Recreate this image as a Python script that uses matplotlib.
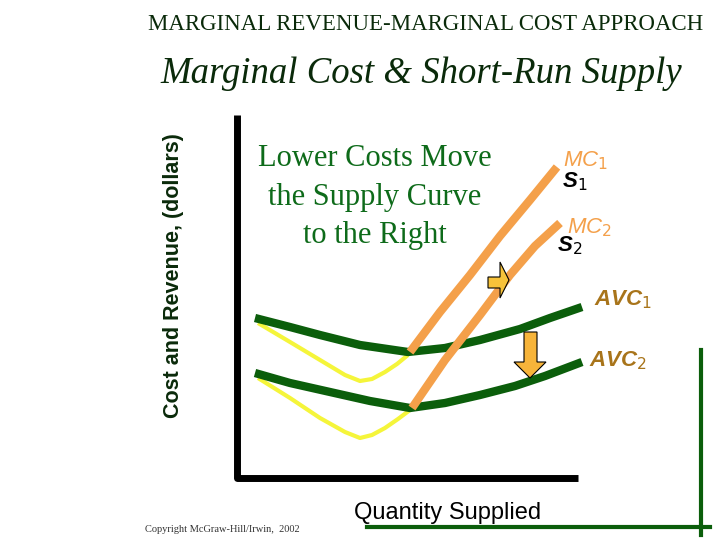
import matplotlib
matplotlib.use("Agg")
import matplotlib.pyplot as plt
from matplotlib.patches import Polygon

# Curve data (figure pixel units, y downward)
avc1_x = [255, 290, 320, 360, 408, 445, 480, 520, 550, 582]
avc1_y = [318, 327, 335, 345, 352, 348, 340, 329, 318, 307]
avc2_x = [255, 290, 330, 370, 410, 445, 480, 515, 545, 582]
avc2_y = [373, 383, 392, 401, 408, 403, 395, 386, 376, 362]
yel1_x = [258, 290, 320, 345, 360, 372, 385, 397, 408]
yel1_y = [323, 342, 360, 375, 381, 379, 372, 364, 355]
yel2_x = [258, 290, 320, 345, 360, 372, 385, 398, 410]
yel2_y = [378, 398, 418, 432, 438, 435, 428, 419, 410]
mc1_x = [410, 440, 470, 500, 530, 557]
mc1_y = [352, 312, 275, 236, 200, 167]
mc2_x = [412, 445, 480, 510, 535, 560]
mc2_y = [408, 360, 315, 275, 246, 223]

fig = plt.figure(figsize=(7.2, 5.4), dpi=100)
ax = fig.add_axes([0, 0, 1, 1])
ax.set_xlim(0, 720)
ax.set_ylim(540, 0)
ax.axis("off")

dg = "#0B5E0B"
orange = "#F4A04A"
brown = "#A8741A"

ax.plot([237, 237, 578], [115, 478, 478], color="black", lw=5, solid_capstyle="butt")
ax.plot([701, 701], [350, 535], color=dg, lw=3)
ax.plot([367, 710], [527, 527], color=dg, lw=3)

kw = dict(solid_joinstyle="round", solid_capstyle="butt")
ax.plot(yel1_x, yel1_y, color="#F5F53A", lw=3, zorder=2, **kw)
ax.plot(yel2_x, yel2_y, color="#F5F53A", lw=3, zorder=2, **kw)
ax.plot(avc1_x, avc1_y, color=dg, lw=6, zorder=3, **kw)
ax.plot(avc2_x, avc2_y, color=dg, lw=6, zorder=3, **kw)
ax.plot(mc1_x, mc1_y, color=orange, lw=6, zorder=4, **kw)
ax.plot(mc2_x, mc2_y, color=orange, lw=6, zorder=4, **kw)

ax.add_patch(Polygon([[488, 277], [500, 277], [500, 262], [509, 280], [500, 298], [500, 288], [488, 288]],
                     closed=True, fc="#F7C23A", ec="black", lw=0.8, zorder=5))
ax.add_patch(Polygon([[524, 332], [537, 332], [537, 362], [546, 362], [530, 378], [514, 362], [524, 362]],
                     closed=True, fc="#F7B43A", ec="black", lw=0.8, zorder=5))

ax.text(426, 25, "MARGINAL REVENUE-MARGINAL COST APPROACH", ha="center", va="center",
        family="Liberation Serif", fontsize=16.5, color="#0A2A0A")
ax.text(421, 74, "Marginal Cost & Short-Run Supply", ha="center", va="center",
        family="Liberation Serif", style="italic", fontsize=26.5, color="#0A2A0A")
ax.text(173, 276, "Cost and Revenue, (dollars)", rotation=90, ha="center", va="center",
        family="Liberation Sans", fontweight="bold", fontsize=15.5, color="#0A2A0A")
for txt, yy in [("Lower Costs Move", 159), ("the Supply Curve", 197), ("to the Right", 236)]:
    ax.text(375, yy, txt, ha="center", va="center",
            family="Liberation Serif", fontsize=22, color="#0E6B1A")
ax.text(448, 513, "Quantity Supplied", ha="center", va="center",
        family="Liberation Sans", fontsize=17, color="black")
ax.text(145, 529, "Copyright McGraw-Hill/Irwin,  2002", ha="left", va="center",
        family="Liberation Serif", fontsize=7.5, color="#333333")

ax.text(563, 161, "MC$_1$", family="Liberation Sans", style="italic", fontsize=16, color=orange, va="center")
ax.text(562, 182, "S$_1$", family="Liberation Sans", style="italic", fontweight="bold", fontsize=16, color="black", va="center")
ax.text(567, 228, "MC$_2$", family="Liberation Sans", style="italic", fontsize=16, color=orange, va="center")
ax.text(557, 246, "S$_2$", family="Liberation Sans", style="italic", fontweight="bold", fontsize=16, color="black", va="center")
ax.text(594, 300, "AVC$_1$", family="Liberation Sans", style="italic", fontweight="bold", fontsize=16, color=brown, va="center")
ax.text(589, 361, "AVC$_2$", family="Liberation Sans", style="italic", fontweight="bold", fontsize=16, color=brown, va="center")

fig.savefig("out.png", dpi=100)
